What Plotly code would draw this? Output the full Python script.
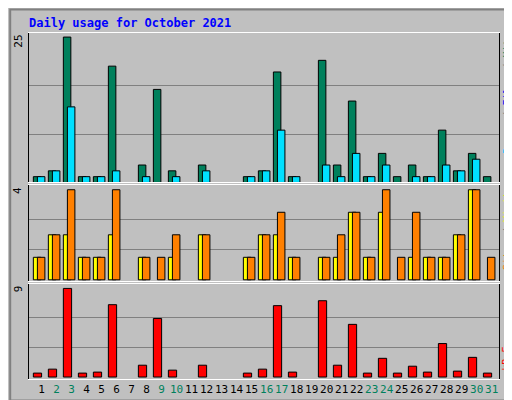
import plotly.graph_objects as go
from plotly.subplots import make_subplots

days = list(range(1, 32))
weekend_days = [2, 3, 9, 10, 16, 17, 23, 24, 30, 31]

hits = [1, 2, 25, 1, 1, 20, 0, 3, 16, 2, 0, 3, 0, 0, 1, 2, 19, 1, 0, 21,
        3, 14, 1, 5, 1, 3, 1, 9, 2, 5, 1]
files = [1, 2, 13, 1, 1, 2, 0, 1, 0, 1, 0, 2, 0, 0, 1, 2, 9, 1, 0, 3,
         1, 5, 1, 3, 0, 1, 1, 3, 2, 4, 0]
visits = [1, 2, 2, 1, 1, 2, 0, 1, 0, 1, 0, 2, 0, 0, 1, 2, 2, 1, 0, 1,
          1, 3, 1, 3, 0, 1, 1, 1, 2, 4, 0]
sites = [1, 2, 4, 1, 1, 4, 0, 1, 1, 2, 0, 2, 0, 0, 1, 2, 3, 1, 0, 1,
         2, 3, 1, 4, 1, 3, 1, 1, 2, 4, 1]
kbytes = [0.4, 0.8, 9.0, 0.4, 0.5, 7.35, 0, 1.2, 5.95, 0.7, 0, 1.2, 0, 0, 0.4, 0.8,
          7.25, 0.5, 0, 7.75, 1.2, 5.35, 0.4, 1.9, 0.4, 1.1, 0.5, 3.4, 0.6, 2.0, 0.4]

FONT = "DejaVu Sans Mono"
GREEN = "#00805C"

fig = make_subplots(rows=3, cols=1, shared_xaxes=True, vertical_spacing=0.0)

def bars(y, color, offset, width, row):
    # days with nothing get no bar at all
    y = [v if v else None for v in y]
    fig.add_trace(go.Bar(x=days, y=y, offset=offset, width=width,
                         marker=dict(color=color, line=dict(color="black", width=1))),
                  row=row, col=1)

bars(hits, GREEN, 0, 0.5, 1)
bars(files, "#00E0FF", 0.27, 0.5, 1)
bars(visits, "#FFFF00", 0, 0.5, 2)
bars(sites, "#FF8000", 0.27, 0.5, 2)
bars(kbytes, "#FF0000", 0, 0.55, 3)

fig.update_layout(
    width=512, height=400, showlegend=False, barmode="overlay",
    paper_bgcolor="#C0C0C0", plot_bgcolor="#C0C0C0",
    margin=dict(l=21, r=21, t=25, b=23),
    font=dict(family=FONT, size=11, color="black"),
    yaxis=dict(domain=[0.568, 1.0]),
    yaxis2=dict(domain=[0.284, 0.560]),
    yaxis3=dict(domain=[0.0, 0.276]),
)

ticktext = [f"<span style='color:{GREEN}'>{d}</span>" if d in weekend_days else str(d)
            for d in days]
for r in (1, 2, 3):
    fig.update_xaxes(range=[0.71, 32.04], showgrid=False, zeroline=False,
                     showticklabels=False, ticks="", row=r, col=1,
                     showline=True, linecolor="white", mirror=True)
fig.update_xaxes(showticklabels=True, tickvals=[d + 0.55 for d in days],
                 ticktext=ticktext, tickangle=0, tickfont=dict(family=FONT, size=11),
                 row=3, col=1)

for r, top, rng in ((1, 25, [0, 25.7]), (2, 4, [-0.04, 4.2]), (3, 9, [-0.2, 9.5])):
    fig.update_yaxes(range=rng, tickvals=[top / 3, 2 * top / 3], showticklabels=False,
                     gridcolor="#808080", gridwidth=1, zeroline=False, ticks="",
                     showline=True, linecolor="black", mirror=True, row=r, col=1)

fig.add_annotation(text="<b>Daily usage for October 2021</b>", xref="paper", yref="paper",
                   x=-0.005, y=1.028, xanchor="left", yanchor="middle", showarrow=False,
                   font=dict(family=FONT, size=12, color="#0000FF"))

for txt, yd in (("25", 1.0), ("4", 0.560), ("9", 0.276)):
    fig.add_annotation(text=txt, xref="paper", yref="paper", x=-0.005, y=yd,
                       xanchor="right", yanchor="top", textangle=-90, showarrow=False,
                       font=dict(family=FONT, size=11, color="black"))

right_labels = [
    ("<span style='color:#00C0FF'>Pages</span> / <span style='color:#0000FF'>Files</span>"
     " / <span style='color:#00805C'>Hits</span>", 1.0),
    ("<span style='color:#FF8000'>Sites</span> / <span style='color:#FFFF00'>Visits</span>", 0.560),
    ("<span style='color:#FF0000'>kB F</span>", 0.276 - 0.18),
]
for txt, yd in right_labels:
    fig.add_annotation(text=txt, xref="paper", yref="paper", x=1.003, y=yd,
                       xanchor="left", yanchor="top", textangle=-90, showarrow=False,
                       borderpad=0, font=dict(family=FONT, size=10, color="#808080"))

fig.add_shape(type="rect", xref="paper", yref="paper", x0=-0.04, x1=1.04,
              y0=-0.062, y1=1.068, line=dict(color="#808080", width=2))

fig.write_html("out.html")
